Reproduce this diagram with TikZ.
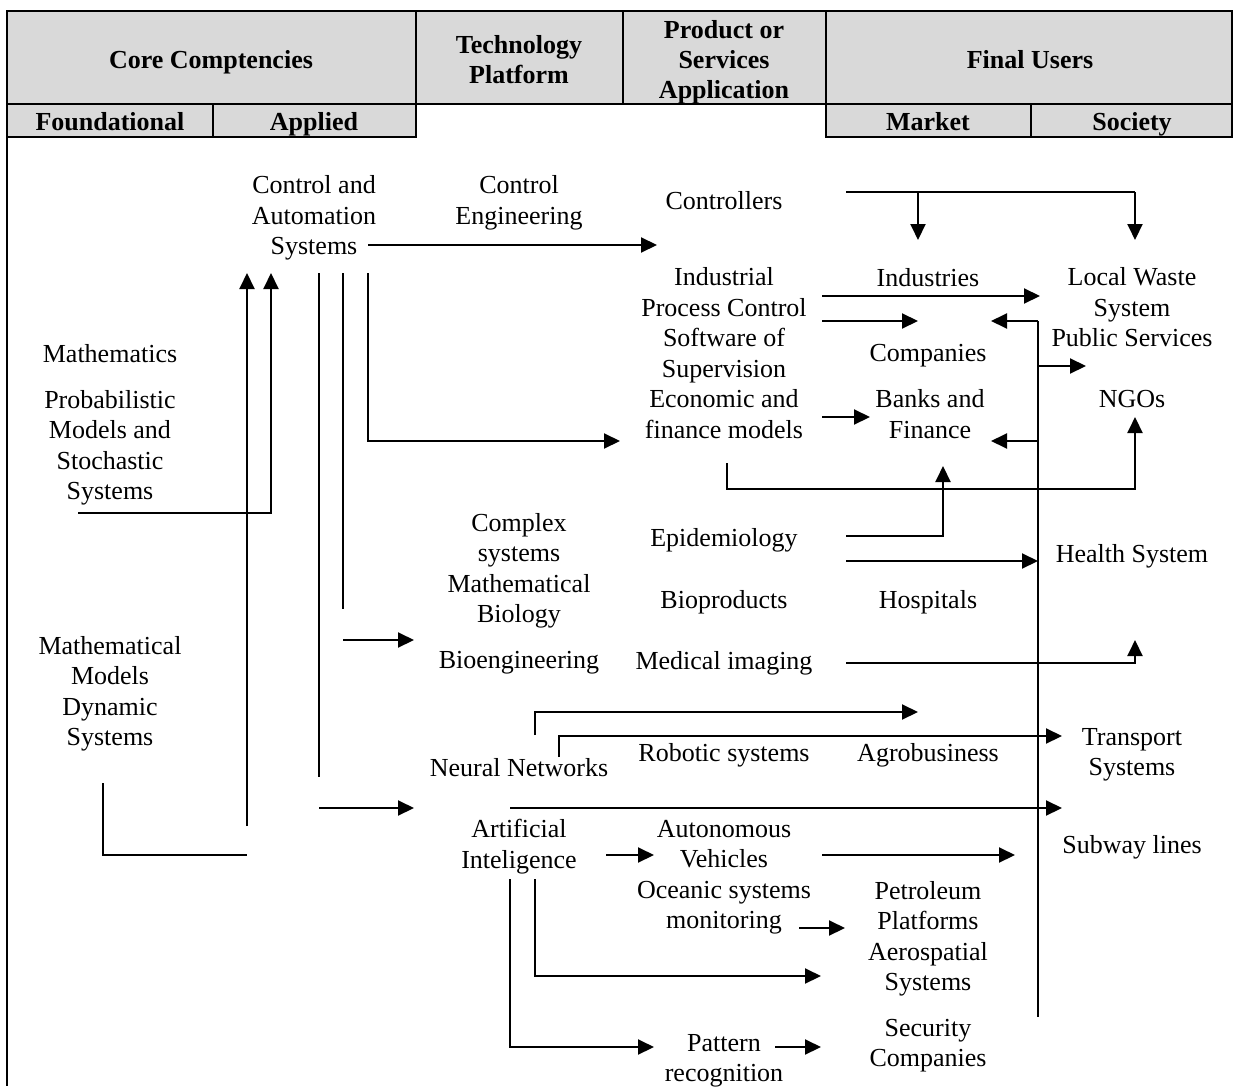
\documentclass[tikz,border=0pt]{standalone}
\usepackage{fontspec}
\setmainfont{Liberation Serif}
\usetikzlibrary{arrows.meta}
\definecolor{hdrgray}{HTML}{D9D9D9}
\begin{document}
\begin{tikzpicture}[x=1pt,y=-1pt,
  txt/.style={font=\fontsize{26}{30.5}\selectfont, align=center, inner sep=0pt, text depth=0pt},
  hdr/.style={txt, font=\fontsize{26}{30}\selectfont\bfseries},
  conn/.style={line width=2pt},
  arr/.style={conn, -{Triangle[length=16pt,width=15pt]}},
  frame/.style={line width=2pt}]
\useasboundingbox (0,0) rectangle (1233,1086);
% ---------- header ----------
\fill[hdrgray] (7,11) rectangle (1232,104);
\fill[hdrgray] (7,104) rectangle (416,137);
\fill[hdrgray] (826,104) rectangle (1232,137);
\draw[frame] (7,11) rectangle (1232,104);
\draw[frame] (416,11) -- (416,104) (623,11) -- (623,104) (826,11) -- (826,104);
\draw[frame] (7,104) rectangle (416,137);
\draw[frame] (213,104) -- (213,137);
\draw[frame] (826,104) rectangle (1232,137);
\draw[frame] (1031,104) -- (1031,137);
\draw[frame] (7,137) -- (7,1086);
\node[hdr] (hcore)  at (211,59) {Core Comptencies};
\node[hdr] (htech)  at (519,59) {Technology\\Platform};
\node[hdr] (hprod)  at (724,59) {Product or\\Services\\Application};
\node[hdr] (hfinal) at (1030,59) {Final Users};
\node[hdr] (hfound) at (110,121) {Foundational};
\node[hdr] (happl)  at (314,121) {Applied};
\node[hdr] (hmark)  at (928,121) {Market};
\node[hdr] (hsoc)   at (1132,121) {Society};
% ---------- body nodes ----------
\node[txt] (cas)   at (314,215) {Control and\\Automation\\Systems};
\node[txt] (ceng)  at (519,200) {Control\\Engineering};
\node[txt] (ctrl)  at (724,200) {Controllers};
\node[txt] (ipc)   at (724,292) {Industrial\\Process Control};
\node[txt] (sos)   at (724,353) {Software of\\Supervision};
\node[txt] (efm)   at (724,414) {Economic and\\finance models};
\node[txt] (ind)   at (928,277) {Industries};
\node[txt] (comp)  at (928,353) {Companies};
\node[txt] (bank)  at (930,414) {Banks and\\Finance};
\node[txt] (lws)   at (1132,307) {Local Waste\\System\\Public Services};
\node[txt] (ngo)   at (1132,399) {NGOs};
\node[txt] (math)  at (110,353) {Mathematics};
\node[txt] (prob)  at (110,445) {Probabilistic\\Models and\\Stochastic\\Systems};
\node[txt] (csmb)  at (519,568) {Complex\\systems\\Mathematical\\Biology};
\node[txt] (bioe)  at (519,660) {Bioengineering};
\node[txt] (epi)   at (724,537) {Epidemiology};
\node[txt] (biop)  at (724,599) {Bioproducts};
\node[txt] (hosp)  at (928,599) {Hospitals};
\node[txt] (health) at (1132,553) {Health System};
\node[txt] (medi)  at (724,660) {Medical imaging};
\node[txt] (mmds)  at (110,691) {Mathematical\\Models\\Dynamic\\Systems};
\node[txt] (nn)    at (519,767) {Neural Networks};
\node[txt] (robo)  at (724,752) {Robotic systems};
\node[txt] (agro)  at (928,752) {Agrobusiness};
\node[txt] (trans) at (1132,752) {Transport\\Systems};
\node[txt] (ai)    at (519,844) {Artificial\\Inteligence};
\node[txt] (auto)  at (724,844) {Autonomous\\Vehicles};
\node[txt] (subway) at (1132,844) {Subway lines};
\node[txt] (ocean) at (724,905) {Oceanic systems\\monitoring};
\node[txt] (petro) at (928,936) {Petroleum\\Platforms\\Aerospatial\\Systems};
\node[txt] (secu)  at (928,1043) {Security\\Companies};
\node[txt] (patt)  at (724,1058) {Pattern\\recognition};
% ---------- connector points ----------
\coordinate (casOut) at (368,245);   \coordinate (ctrlIn) at (657,245);
\coordinate (ctrlOut) at (846,192);  \coordinate (ctrlJ1) at (918,192);
\coordinate (ctrlJ2) at (1135,192);
\coordinate (indTip) at (918,240);   \coordinate (lwsTip) at (1135,240);
\coordinate (ipcOut1) at (822,296);  \coordinate (lwsIn) at (1040,296);
\coordinate (ipcOut2) at (822,321);  \coordinate (compIn) at (918,321);
\coordinate (busTop) at (1038,321);  \coordinate (busBot) at (1038,1017);
\coordinate (compIn2) at (991,321);
\coordinate (busPub) at (1038,366);  \coordinate (pubIn) at (1086,366);
\coordinate (busBank) at (1038,441); \coordinate (bankIn2) at (991,441);
\coordinate (efmOut) at (822,417);   \coordinate (bankIn) at (870,417);
\coordinate (casA) at (368,273);     \coordinate (casAc) at (368,441);
\coordinate (efmIn) at (620,441);
\coordinate (casB) at (343,273);     \coordinate (casBe) at (343,609);
\coordinate (bioeOut) at (343,640);  \coordinate (bioeIn) at (414,640);
\coordinate (casC) at (319,273);     \coordinate (casCe) at (319,777);
\coordinate (aiFrom) at (319,808);   \coordinate (aiIn) at (414,808);
\coordinate (probOut) at (78,513);   \coordinate (probC) at (271,513);
\coordinate (casIn1) at (271,273);
\coordinate (mmdsUp) at (247,826);   \coordinate (casIn2) at (247,273);
\coordinate (mmdsOut) at (103,783);  \coordinate (mmdsC) at (103,855);
\coordinate (mmdsEnd) at (247,855);
\coordinate (efmDown) at (727,463);  \coordinate (efmC1) at (727,489);
\coordinate (efmC2) at (1135,489);   \coordinate (ngoIn) at (1135,417);
\coordinate (epiOut1) at (846,536);  \coordinate (epiC) at (943,536);
\coordinate (bankUp) at (943,466);
\coordinate (epiOut2) at (846,561);  \coordinate (healthIn) at (1038,561);
\coordinate (mediOut) at (846,663);  \coordinate (mediC) at (1135,663);
\coordinate (healthUp) at (1135,640);
\coordinate (nnA) at (535,735);      \coordinate (nnAc) at (535,712);
\coordinate (agroIn) at (918,712);
\coordinate (nnB) at (559,757);      \coordinate (nnBc) at (559,736);
\coordinate (transIn) at (1062,736);
\coordinate (aiOut) at (510,808);    \coordinate (subIn) at (1062,808);
\coordinate (aiOut2) at (606,855);   \coordinate (autoIn) at (654,855);
\coordinate (autoOut) at (822,855);  \coordinate (autoTip) at (1015,855);
\coordinate (oceOut) at (799,928);   \coordinate (petroIn) at (845,928);
\coordinate (aiD1) at (535,879);     \coordinate (aiD1c) at (535,976);
\coordinate (aeroIn) at (821,976);
\coordinate (aiD2) at (510,879);     \coordinate (aiD2c) at (510,1047);
\coordinate (pattIn) at (654,1047);
\coordinate (pattOut) at (775,1047); \coordinate (secuIn) at (821,1047);
% ---------- connectors ----------
\draw[arr] (casOut) -- (ctrlIn);
\draw[conn] (ctrlOut) -- (ctrlJ2);
\draw[arr] (ctrlJ2) -- (lwsTip);
\draw[arr] (ctrlJ1) -- (indTip);
\draw[arr] (ipcOut1) -- (lwsIn);
\draw[arr] (ipcOut2) -- (compIn);
\draw[conn] (busTop) -- (busBot);
\draw[arr] (busTop) -- (compIn2);
\draw[arr] (busPub) -- (pubIn);
\draw[arr] (busBank) -- (bankIn2);
\draw[arr] (efmOut) -- (bankIn);
\draw[arr] (casA) -- (casAc) -- (efmIn);
\draw[conn] (casB) -- (casBe);
\draw[arr] (bioeOut) -- (bioeIn);
\draw[conn] (casC) -- (casCe);
\draw[arr] (aiFrom) -- (aiIn);
\draw[arr] (probOut) -- (probC) -- (casIn1);
\draw[arr] (mmdsUp) -- (casIn2);
\draw[conn] (mmdsOut) -- (mmdsC) -- (mmdsEnd);
\draw[arr] (efmDown) -- (efmC1) -- (efmC2) -- (ngoIn);
\draw[arr] (epiOut1) -- (epiC) -- (bankUp);
\draw[arr] (epiOut2) -- (healthIn);
\draw[arr] (mediOut) -- (mediC) -- (healthUp);
\draw[arr] (nnA) -- (nnAc) -- (agroIn);
\draw[arr] (nnB) -- (nnBc) -- (transIn);
\draw[arr] (aiOut) -- (subIn);
\draw[arr] (aiOut2) -- (autoIn);
\draw[arr] (autoOut) -- (autoTip);
\draw[arr] (oceOut) -- (petroIn);
\draw[arr] (aiD1) -- (aiD1c) -- (aeroIn);
\draw[arr] (aiD2) -- (aiD2c) -- (pattIn);
\draw[arr] (pattOut) -- (secuIn);
\end{tikzpicture}
\end{document}
